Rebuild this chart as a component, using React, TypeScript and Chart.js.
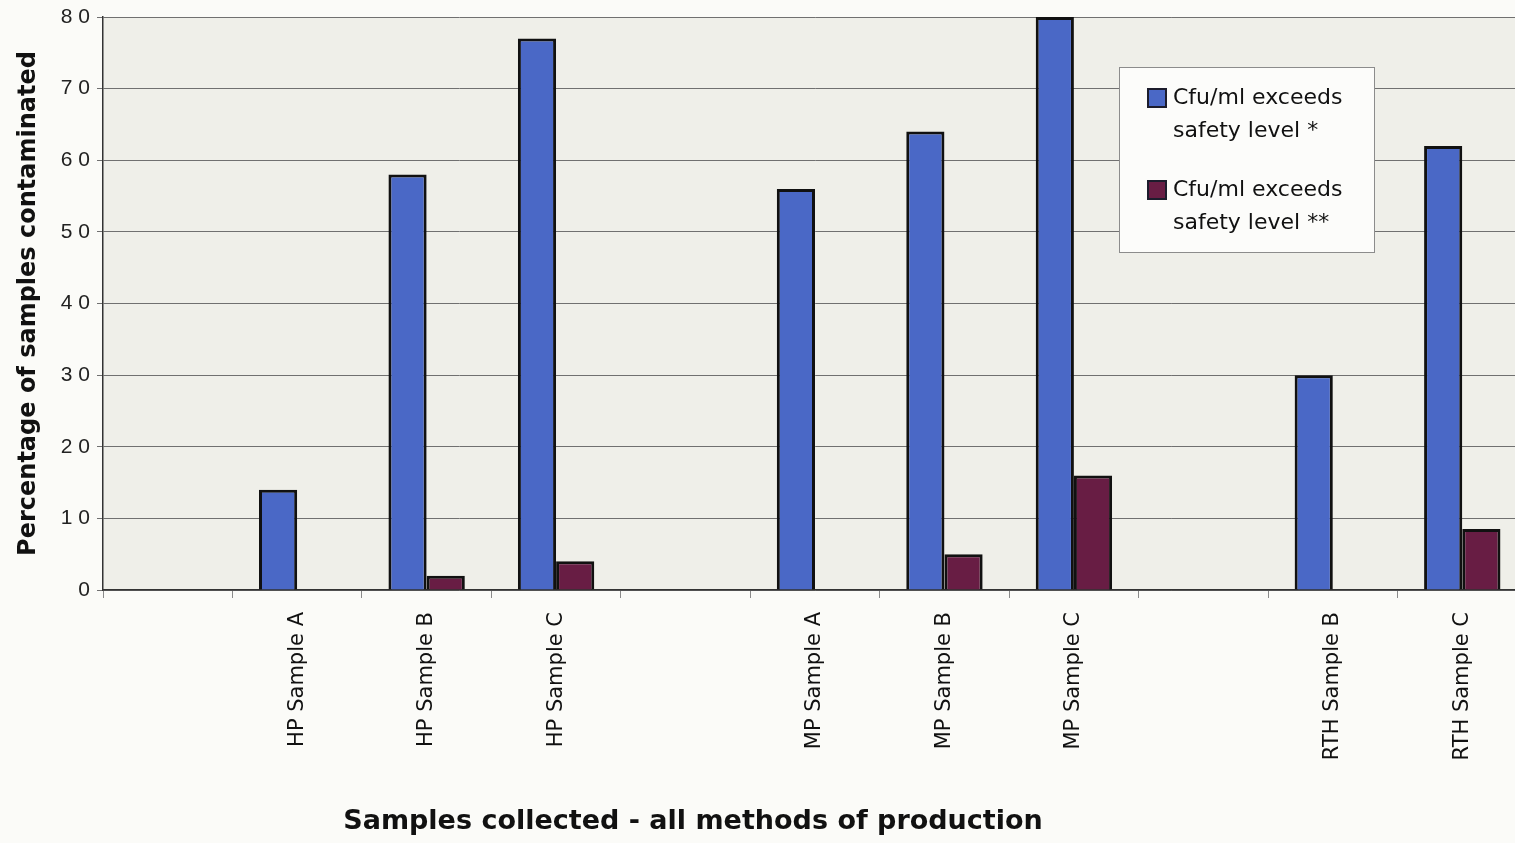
import { useEffect, useRef } from 'react';
import { Chart, registerables } from 'chart.js';

Chart.register(...registerables);

// Sample groups (blank slots separate the production methods)
const categories = [
  '',
  'HP Sample A',
  'HP Sample B',
  'HP Sample C',
  '',
  'MP Sample A',
  'MP Sample B',
  'MP Sample C',
  '',
  'RTH Sample B',
  'RTH Sample C',
];

// Percentage of samples above each safety level
const aboveLevelOne = [null, 14, 58, 77, null, 56, 64, 80, null, 30, 62];
const aboveLevelTwo = [null, 0, 2, 4, null, 0, 5, 16, null, 0, 8.5];

const seriesLines = [
  ['Cfu/ml exceeds', 'safety level *'],
  ['Cfu/ml exceeds', 'safety level **'],
];
const seriesColors = ['#4a68c6', '#681d44'];

const yTitle = 'Percentage of samples contaminated';
const xTitle = 'Samples collected - all methods of production';

const FONT = '"DejaVu Sans", sans-serif';

const plotBackground = {
  id: 'plotBackground',
  beforeDraw(chart: any) {
    const { ctx, chartArea: a } = chart;
    ctx.save();
    ctx.fillStyle = '#efefe9';
    ctx.fillRect(a.left, a.top, a.right - a.left, a.bottom - a.top);
    ctx.restore();
  },
};

const boxedLegend = {
  id: 'boxedLegend',
  afterDraw(chart: any) {
    const { ctx, chartArea: a } = chart;
    const x = a.left + 1016;
    const y = a.top + 50;
    const w = 255;
    const h = 185;
    ctx.save();
    ctx.fillStyle = '#fcfcfa';
    ctx.fillRect(x, y, w, h);
    ctx.strokeStyle = '#8c8c8c';
    ctx.lineWidth = 1;
    ctx.strokeRect(x + 0.5, y + 0.5, w, h);
    ctx.font = `22px ${FONT}`;
    ctx.textBaseline = 'middle';
    ctx.textAlign = 'left';
    chart.data.datasets.forEach((ds: any, i: number) => {
      const top = y + 21 + i * 92;
      ctx.fillStyle = ds.backgroundColor;
      ctx.fillRect(x + 28, top, 20, 20);
      ctx.strokeStyle = '#1c1c2c';
      ctx.lineWidth = 2;
      ctx.strokeRect(x + 29, top + 1, 18, 18);
      ctx.fillStyle = '#111';
      seriesLines[i].forEach((line, j) => {
        ctx.fillText(line, x + 54, top + 10 + j * 33);
      });
    });
    ctx.restore();
  },
};

const bottomTitle = {
  id: 'bottomTitle',
  afterDraw(chart: any) {
    const { ctx, chartArea: a } = chart;
    ctx.save();
    ctx.font = `bold 27px ${FONT}`;
    ctx.fillStyle = '#111';
    ctx.textAlign = 'center';
    ctx.textBaseline = 'middle';
    ctx.fillText(xTitle, a.left + 590, 822);
    ctx.restore();
  },
};

export default function App() {
  const canvasRef = useRef<HTMLCanvasElement | null>(null);

  useEffect(() => {
    document.body.style.margin = '0';
    document.body.style.overflow = 'hidden';
    document.documentElement.style.overflow = 'hidden';
    const canvas = canvasRef.current;
    if (!canvas) return;

    const chart = new Chart(canvas, {
      type: 'bar',
      data: {
        labels: categories,
        datasets: [
          {
            label: seriesLines[0].join(' '),
            data: aboveLevelOne,
            backgroundColor: seriesColors[0],
            borderColor: '#111',
            borderWidth: 3,
            barPercentage: 1,
            categoryPercentage: 0.59,
          },
          {
            label: seriesLines[1].join(' '),
            data: aboveLevelTwo,
            backgroundColor: seriesColors[1],
            borderColor: '#111',
            borderWidth: 3,
            barPercentage: 1,
            categoryPercentage: 0.59,
          },
        ],
      },
      options: {
        responsive: false,
        animation: false,
        layout: { padding: { top: 17, right: 0, bottom: 0, left: 0 } },
        plugins: {
          legend: { display: false },
          tooltip: { enabled: false },
        },
        scales: {
          x: {
            grid: {
              drawOnChartArea: false,
              offset: true,
              tickLength: 8,
              color: '#8a8a8a',
            },
            border: { color: '#333', width: 1.5 },
            ticks: {
              minRotation: 90,
              maxRotation: 90,
              autoSkip: false,
              padding: 14,
              color: '#111',
              font: { family: FONT, size: 21 },
            },
            afterFit(scale: any) {
              scale.height = 253;
            },
          },
          y: {
            min: 0,
            max: 80,
            ticks: {
              stepSize: 10,
              padding: 7,
              color: '#222',
              font: { family: '"Liberation Sans", Arial, sans-serif', size: 21 },
              callback: (v: any) => String(v).split('').join(' '),
            },
            grid: { color: '#707070', lineWidth: 1, tickLength: 6 },
            border: { color: '#333', width: 1.5 },
            title: {
              display: true,
              text: yTitle,
              color: '#111',
              font: { family: FONT, size: 24, weight: 'bold' },
              padding: { top: 14, bottom: 0 },
            },
            afterFit(scale: any) {
              scale.width = 103;
              scale.paddingTop = 0;
              scale.paddingBottom = 0;
            },
          },
        },
      },
      plugins: [plotBackground, boxedLegend, bottomTitle],
    });

    return () => chart.destroy();
  }, []);

  return (
    <div
      style={{
        position: 'relative',
        width: 1515,
        height: 843,
        overflow: 'hidden',
        background: '#fbfbf8',
      }}
    >
      <canvas ref={canvasRef} width={1527} height={843} style={{ display: 'block' }} />
    </div>
  );
}
